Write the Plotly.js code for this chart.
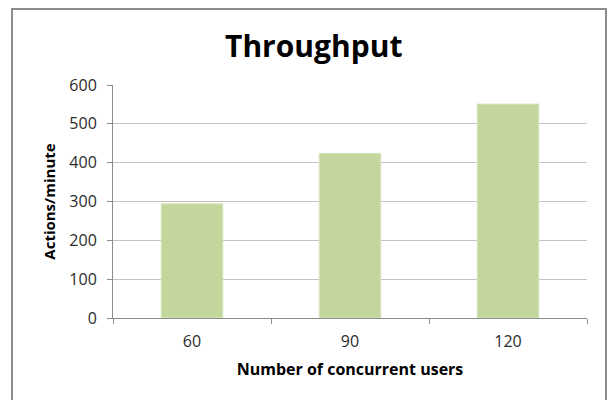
<!DOCTYPE html>
<html>
<head>
<meta charset="utf-8">
<script src="https://cdn.plot.ly/plotly-3.0.1.min.js"></script>
<style>
  html, body { margin: 0; padding: 0; background: #fff; }
  #wrap { position: relative; width: 608px; height: 400px; overflow: hidden; }
  #chart { position: absolute; left: 0; top: 0; width: 608px; height: 400px; }
  #frame { position: absolute; left: 11px; top: 8px; width: 592px; height: 400px;
           border: 2px solid #8c8c8c; border-bottom: none; pointer-events: none; }
</style>
</head>
<body>
<div id="wrap">
  <div id="chart"></div>
  <div id="frame"></div>
</div>
<script>
const categories = ["60", "90", "120"];
const throughput = [294, 424, 551];
const yTicks = [0, 100, 200, 300, 400, 500, 600];

const trace = {
  type: "bar",
  x: categories,
  y: throughput,
  marker: { color: "#c3d69b", line: { color: "#d9e6c0", width: 1 } },
  hoverinfo: "skip"
};

const layout = {
  width: 608,
  height: 400,
  margin: { l: 113, r: 21, t: 85, b: 82 },
  paper_bgcolor: "#ffffff",
  plot_bgcolor: "#ffffff",
  showlegend: false,
  bargap: 0.61,
  font: { family: "Open Sans, sans-serif", color: "#333333" },
  title: {
    text: "<b>Throughput</b>",
    font: { family: "Open Sans, sans-serif", size: 30, color: "#000000" },
    xref: "container", x: 0.516, xanchor: "center",
    yref: "container", y: 0.885, yanchor: "middle"
  },
  xaxis: {
    type: "category",
    tickson: "boundaries",
    ticks: "outside",
    ticklen: 5,
    tickcolor: "#8c8c8c",
    ticklabelstandoff: 9,
    showline: true,
    linecolor: "#8c8c8c",
    linewidth: 1,
    showgrid: false,
    tickfont: { size: 16, color: "#2b2b2b" },
    title: {
      text: "<b>Number of concurrent users</b>",
      font: { size: 16, color: "#000000" },
      standoff: 12
    }
  },
  yaxis: {
    range: [0, 600],
    tickvals: yTicks,
    ticks: "outside",
    ticklen: 5,
    tickcolor: "#8c8c8c",
    ticklabelstandoff: 7,
    showline: true,
    linecolor: "#8c8c8c",
    linewidth: 1,
    showgrid: true,
    gridcolor: "#c4c4c4",
    gridwidth: 1,
    zeroline: false,
    tickfont: { size: 16, color: "#2b2b2b" },
    title: {
      text: "<b>Actions/minute</b>",
      font: { size: 15, color: "#000000" },
      standoff: 10
    }
  }
};

Plotly.newPlot("chart", [trace], layout, { staticPlot: true, displayModeBar: false });
</script>
</body>
</html>
